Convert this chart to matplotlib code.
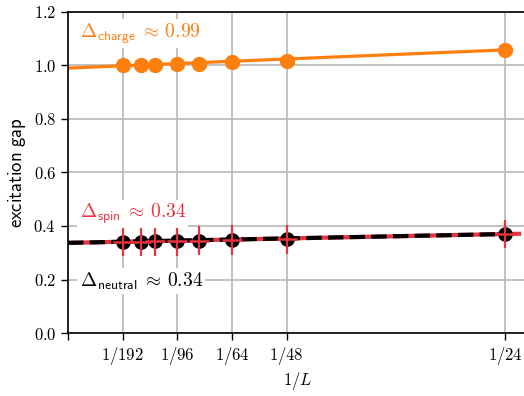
import numpy as np
import matplotlib
matplotlib.use('Agg')
import matplotlib.pyplot as plt

plt.rcParams['mathtext.fontset'] = 'cm'
plt.rcParams['font.family'] = 'serif'
plt.rcParams['font.serif'] = ['cmr10', 'DejaVu Serif']
plt.rcParams['axes.formatter.use_mathtext'] = True

ORANGE = '#ff7f0e'
RED = '#e8333f'

# system sizes and gaps
L = np.array([192, 144, 120, 96, 80, 64, 48, 24])
charge_gap = [1.000, 1.001, 1.002, 1.004, 1.007, 1.011, 1.017, 1.058]
neutral_gap = [0.341, 0.342, 0.343, 0.344, 0.345, 0.347, 0.350, 0.370]
spin_gap = [0.341, 0.342, 0.343, 0.344, 0.345, 0.347, 0.350, 0.370]
spin_err = [0.055, 0.055, 0.055, 0.055, 0.055, 0.055, 0.055, 0.052]

# linear extrapolations (intercept, slope)
charge_fit = (0.99, 1.63)
neutral_fit = (0.337, 0.79)
spin_fit = (0.337, 0.79)

tick_L = [192, 96, 64, 48, 24]

x = 1.0 / L

fig = plt.figure(figsize=(5.24, 3.96), dpi=100)
ax = fig.add_axes([0.1298, 0.159, 0.876, 0.811])

xx = np.array([0, 1 / 24])
xx_red = np.array([0, 0.043])
ax.plot(xx, charge_fit[0] + charge_fit[1] * xx, color=ORANGE, lw=2.3, zorder=2)
ax.plot(x, charge_gap, 'o', color=ORANGE, ms=10, zorder=3)

ax.plot(xx_red, spin_fit[0] + spin_fit[1] * xx_red, color=RED, lw=3, zorder=2)
ax.plot(xx, neutral_fit[0] + neutral_fit[1] * xx, color='black', lw=3,
        linestyle=(0, (3.7, 1.5)), zorder=3)
ax.plot(x, neutral_gap, 'o', color='black', ms=9.5, zorder=4)
ax.errorbar(x, spin_gap, yerr=spin_err, fmt='_', color=RED, ms=14, mew=1.8,
            elinewidth=1.6, capsize=0, zorder=5)

ax.set_xlim(0, 1.05 / 24)
ax.set_ylim(0, 1.2)
ax.set_xticks([0] + [1 / l for l in tick_L])
ax.set_xticklabels([''] + [rf'$1/{l}$' for l in tick_L])
ax.set_yticks(np.arange(0, 1.21, 0.2))
ax.set_yticklabels([rf'${v:.1f}$' for v in np.arange(0, 1.21, 0.2)])
ax.tick_params(labelsize=12, length=5, width=1, direction='out')
ax.grid(True, color='#b8b8b8', lw=1.2, zorder=0)
ax.set_axisbelow(True)
for s in ax.spines.values():
    s.set_linewidth(1.2)

ax.set_xlabel(r'$1/L$', fontsize=12, labelpad=2)
ax.set_ylabel(r'$\mathsf{excitation\ gap}$', fontsize=13.5, labelpad=4)

box = dict(facecolor='white', edgecolor='none', pad=1.5)
ax.text(0.0011, 1.12, r'$\Delta_{\mathsf{charge}}\;\approx\,0.99$', color=ORANGE,
        fontsize=14, va='center', ha='left', bbox=box, zorder=6)
ax.text(0.0011, 0.445, r'$\Delta_{\mathsf{spin}}\;\approx\,0.34$', color=RED,
        fontsize=14, va='center', ha='left', bbox=box, zorder=6)
ax.text(0.0011, 0.195, r'$\Delta_{\mathsf{neutral}}\;\approx\,0.34$', color='black',
        fontsize=14, va='center', ha='left', bbox=box, zorder=6)

fig.savefig('out.png', dpi=100)
